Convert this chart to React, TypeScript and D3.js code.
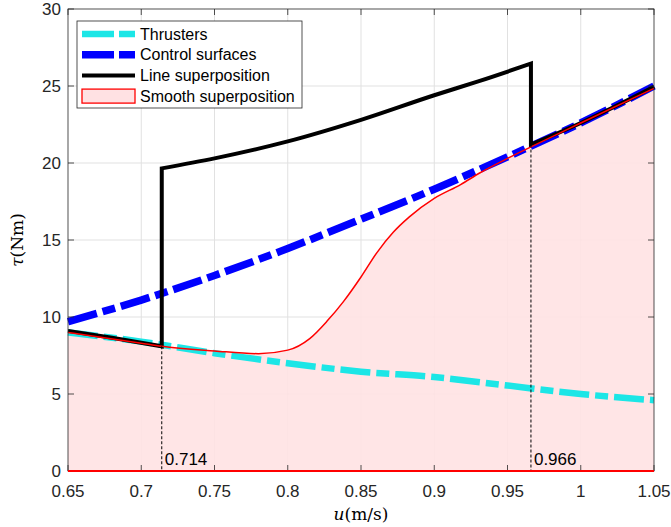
import React from "react";
import * as d3 from "d3";

// speed values (m/s) and torque (Nm)
const uGrid = [0.65, 0.7, 0.75, 0.8, 0.85, 0.9, 0.95, 1.0, 1.05];
const thrusters = [9.0, 8.4, 7.65, 7.0, 6.45, 6.1, 5.55, 5.0, 4.6];
const controlSurfaces = [9.7, 11.1, 12.7, 14.45, 16.35, 18.3, 20.4, 22.6, 25.0];

// line superposition, in three pieces joined by the vertical switches
const lineLeftU = [0.65, 0.68, 0.714];
const lineLeftTau = [9.1, 8.65, 8.1];
const lineMidU = [0.714, 0.75, 0.8, 0.85, 0.9, 0.93, 0.966];
const lineMidTau = [19.65, 20.3, 21.4, 22.8, 24.4, 25.3, 26.45];
const lineRightU = [0.966, 1.0, 1.05];
const lineRightTau = [21.2, 22.6, 24.95];

const smoothU = [0.65, 0.7, 0.714, 0.75, 0.78, 0.8, 0.815, 0.827, 0.838, 0.85, 0.861, 0.872, 0.883, 0.9, 0.918, 0.931, 0.95, 0.966, 1.0, 1.05];
const smoothTau = [9.0, 8.3, 8.1, 7.8, 7.62, 7.85, 8.6, 9.75, 11.0, 12.6, 14.2, 15.5, 16.5, 17.7, 18.6, 19.35, 20.3, 21.05, 22.6, 24.85];

const switchPoints = [0.714, 0.966];
const switchTop = [8.1, 21.2];

const xTicks = [0.65, 0.7, 0.75, 0.8, 0.85, 0.9, 0.95, 1.0, 1.05];
const xTickLabels = ["0.65", "0.7", "0.75", "0.8", "0.85", "0.9", "0.95", "1", "1.05"];
const yTicks = [0, 5, 10, 15, 20, 25, 30];

const legendNames = ["Thrusters", "Control surfaces", "Line superposition", "Smooth superposition"];

const W = 671;
const H = 527;
const plot = { left: 68, right: 654, top: 9, bottom: 471 };

const CYAN = "#1ce6e6";
const BLUE = "#0000ff";
const PINK = "#ffe1e3";
const AXIS = "#262626";

export default function App() {
  const x = d3.scaleLinear().domain([0.65, 1.05]).range([plot.left, plot.right]);
  const y = d3.scaleLinear().domain([0, 30]).range([plot.bottom, plot.top]);

  const pts = (us: number[], vs: number[]) => us.map((u, i) => [u, vs[i]] as [number, number]);

  const smoothCurve = d3
    .line<[number, number]>()
    .x((d) => x(d[0]))
    .y((d) => y(d[1]))
    .curve(d3.curveMonotoneX);
  const straight = d3
    .line<[number, number]>()
    .x((d) => x(d[0]))
    .y((d) => y(d[1]));
  const area = d3
    .area<[number, number]>()
    .x((d) => x(d[0]))
    .y0(y(0))
    .y1((d) => y(d[1]))
    .curve(d3.curveMonotoneX);

  const smoothPts = pts(smoothU, smoothTau);

  // join the pieces into one path so the corners stay sharp
  const blackPath =
    (straight(pts(lineLeftU, lineLeftTau)) || "") +
    (smoothCurve(pts(lineMidU, lineMidTau)) || "").replace(/^M/, "L") +
    (smoothCurve(pts(lineRightU, lineRightTau)) || "").replace(/^M/, "L");

  const legendX = 77;
  const legendY = 21;
  const rowH = 20.7;

  return (
    <svg width={W} height={H} style={{ position: "absolute", left: 0, top: 0 }} fontFamily="'Liberation Sans', Arial, sans-serif">
      <rect width={W} height={H} fill="#fff" />

      {/* grid */}
      <g stroke="#e1e1e1" strokeWidth={1}>
        {xTicks.slice(1, -1).map((t) => (
          <line key={"gx" + t} x1={x(t)} x2={x(t)} y1={plot.top} y2={plot.bottom} />
        ))}
        {yTicks.slice(1, -1).map((t) => (
          <line key={"gy" + t} x1={plot.left} x2={plot.right} y1={y(t)} y2={y(t)} />
        ))}
      </g>

      {/* smooth superposition area */}
      <path d={area(smoothPts) || ""} fill={PINK} opacity={0.88} />

      {/* series */}
      <path d={smoothCurve(pts(uGrid, thrusters)) || ""} fill="none" stroke={CYAN} strokeWidth={6.5} strokeDasharray="30,6,13,6" />
      <path d={smoothCurve(pts(uGrid, controlSurfaces)) || ""} fill="none" stroke={BLUE} strokeWidth={7.5} strokeDasharray="30,6,13,6" />
      <path d={blackPath} fill="none" stroke="#000" strokeWidth={4} strokeLinejoin="miter" />
      <path d={smoothCurve(smoothPts) || ""} fill="none" stroke="#ff0000" strokeWidth={1.5} />

      {/* switching lines */}
      {switchPoints.map((s, i) => (
        <g key={"sw" + s}>
          <line x1={x(s)} x2={x(s)} y1={y(switchTop[i])} y2={y(0)} stroke="#000" strokeWidth={1} strokeDasharray="3,2" />
          <text x={x(s) + 3} y={y(0) - 6} fontSize={17} fill="#000">
            {s.toFixed(3)}
          </text>
        </g>
      ))}

      {/* axes box */}
      <g stroke={AXIS} strokeWidth={0.8} fill="none">
        <rect x={plot.left} y={plot.top} width={plot.right - plot.left} height={plot.bottom - plot.top} />
        {xTicks.map((t) => (
          <g key={"tx" + t}>
            <line x1={x(t)} x2={x(t)} y1={plot.bottom} y2={plot.bottom - 6} />
            <line x1={x(t)} x2={x(t)} y1={plot.top} y2={plot.top + 6} />
          </g>
        ))}
        {yTicks.map((t) => (
          <g key={"ty" + t}>
            <line x1={plot.left} x2={plot.left + 6} y1={y(t)} y2={y(t)} />
            <line x1={plot.right} x2={plot.right - 6} y1={y(t)} y2={y(t)} />
          </g>
        ))}
      </g>
      <line x1={plot.left} x2={plot.right} y1={y(0)} y2={y(0)} stroke="#ff0000" strokeWidth={2} />

      {/* tick labels */}
      <g fontSize={17} fill={AXIS}>
        {xTicks.map((t, i) => (
          <text key={"lx" + t} x={x(t)} y={497} textAnchor="middle">
            {xTickLabels[i]}
          </text>
        ))}
        {yTicks.map((t) => (
          <text key={"ly" + t} x={61} y={y(t) + 6} textAnchor="end">
            {t}
          </text>
        ))}
      </g>

      {/* axis titles */}
      <text x={(plot.left + plot.right) / 2} y={520} textAnchor="middle" fontFamily="'DejaVu Serif', serif" fontSize={17} fill="#000">
        <tspan fontStyle="italic">u</tspan>
        <tspan>(m/s)</tspan>
      </text>
      <text transform={`translate(23,${(plot.top + plot.bottom) / 2}) rotate(-90)`} textAnchor="middle" fontFamily="'DejaVu Serif', serif" fontSize={17} fill="#000">
        <tspan fontStyle="italic">τ</tspan>
        <tspan>(Nm)</tspan>
      </text>

      {/* legend */}
      <g>
        <rect x={legendX} y={legendY} width={225} height={87} fill="#fff" stroke={AXIS} strokeWidth={0.8} />
        {legendNames.map((name, i) => {
          const cy = legendY + 13 + i * rowH;
          let sample: React.ReactNode = null;
          if (i === 0) sample = <line x1={82} x2={135} y1={cy} y2={cy} stroke={CYAN} strokeWidth={6.5} strokeDasharray="32,5,16,5" />;
          if (i === 1) sample = <line x1={82} x2={135} y1={cy} y2={cy} stroke={BLUE} strokeWidth={7.5} strokeDasharray="32,5,16,5" />;
          if (i === 2) sample = <line x1={82} x2={135} y1={cy} y2={cy} stroke="#000" strokeWidth={4} />;
          if (i === 3) sample = <rect x={82} y={cy - 7} width={53} height={14} fill={PINK} stroke="#ff0000" strokeWidth={1.3} />;
          return (
            <g key={name}>
              {sample}
              <text x={140} y={cy + 5.5} fontSize={16} fill="#000">
                {name}
              </text>
            </g>
          );
        })}
      </g>
    </svg>
  );
}
